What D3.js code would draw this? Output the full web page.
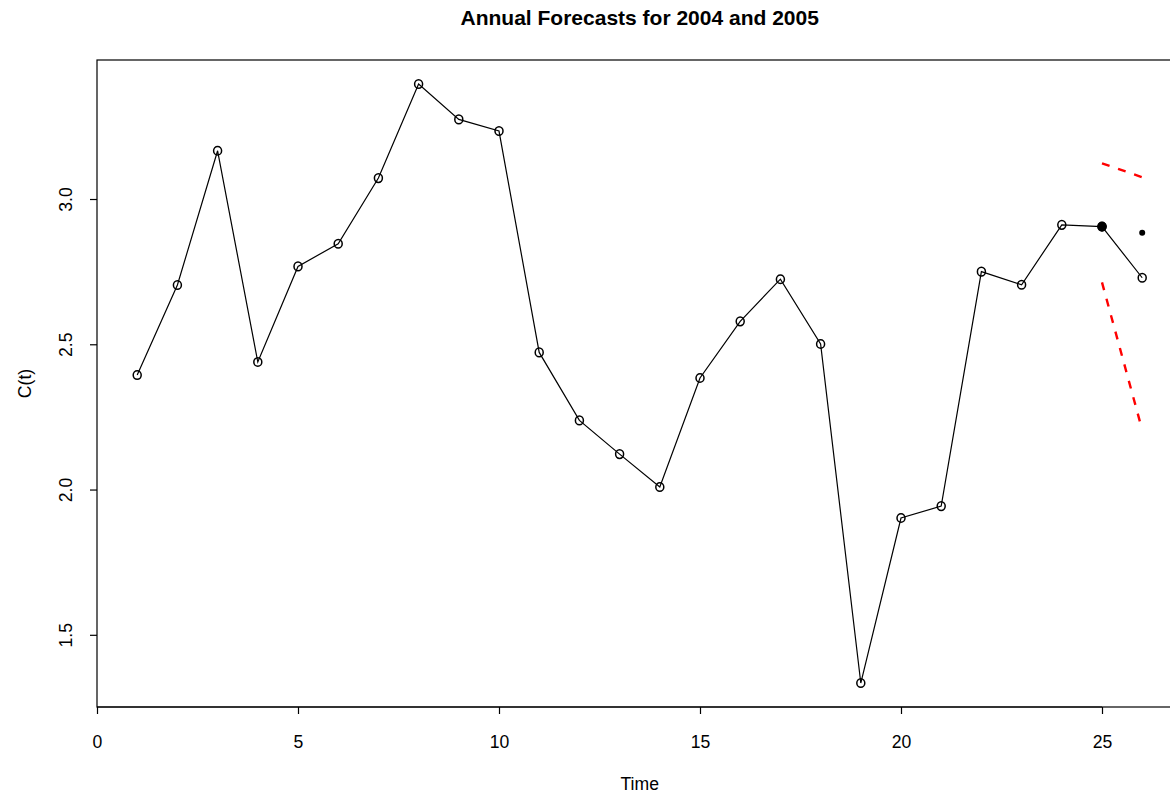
<!DOCTYPE html>
<html>
<head>
<meta charset="utf-8">
<script src="https://cdn.jsdelivr.net/npm/d3@7"></script>
<style>
  body { margin: 0; background: #fff; }
  svg text { font-family: "Liberation Sans", Arial, Helvetica, sans-serif; }
</style>
</head>
<body>
<div id="chart"></div>
<script>
// annual series C(t), t = 1..26
var years = d3.range(1, 27);
var values = [2.394, 2.704, 3.166, 2.439, 2.768, 2.846, 3.072, 3.396, 3.274, 3.234,
              2.472, 2.238, 2.122, 2.009, 2.384, 2.579, 2.724, 2.501, 1.334, 1.902,
              1.943, 2.750, 2.705, 2.911, 2.905, 2.729];

// forecasts for 2004 and 2005 (t = 25, 26) with interval bounds
var fcTime = [25, 26];
var fcValues = [2.905, 2.884];
var fcUpper = [3.123, 3.075];
var fcLower = [2.713, 2.205];

var xTicks = [0, 5, 10, 15, 20, 25];
var yTicks = [1.5, 2.0, 2.5, 3.0];

(function() {
  var width = 1170,
    height = 796;

  var left = 97, top = 60, bottom = 707;

  var svg = d3.select("#chart")
    .append("svg")
    .attr("width", width)
    .attr("height", height);

  // R style 4% padding on data range
  var xr = d3.extent(years), xp = (xr[1] - xr[0]) * 0.04;
  var yr = d3.extent(values), yp = (yr[1] - yr[0]) * 0.04;

  var x = d3.scaleLinear().domain([xr[0] - xp, xr[1] + xp]).range([left, left + 27 * 40.2]);
  var y = d3.scaleLinear().domain([yr[0] - yp, yr[1] + yp]).range([bottom, top]);

  var data = years.map(function(t, i) { return { t: t, v: values[i] }; });

  // box
  svg.append("rect")
    .attr("x", left)
    .attr("y", top)
    .attr("width", x.range()[1] - left)
    .attr("height", bottom - top)
    .attr("fill", "none")
    .attr("stroke", "#000")
    .attr("stroke-width", 1.2);

  // axes
  var xAxis = svg.append("g")
    .attr("transform", "translate(0," + bottom + ")")
    .call(d3.axisBottom(x).tickValues(xTicks).tickSize(7).tickPadding(0).tickFormat(d3.format("d")));
  xAxis.select(".domain").attr("d", "M" + x(0) + ",0H" + x(25)).attr("stroke-width", 1.2);
  xAxis.selectAll(".tick line").attr("stroke-width", 1.2);
  xAxis.selectAll(".tick text")
    .attr("y", 41)
    .attr("dy", null)
    .attr("font-size", 17.6)
    .attr("fill", "#000");

  var yAxis = svg.append("g")
    .attr("transform", "translate(" + left + ",0)")
    .call(d3.axisLeft(y).tickValues(yTicks).tickSize(7).tickFormat(d3.format(".1f")));
  yAxis.select(".domain").remove();
  yAxis.selectAll(".tick line").attr("stroke-width", 1.2);
  yAxis.selectAll(".tick text")
    .attr("x", null)
    .attr("dy", null)
    .attr("transform", "translate(-25,0) rotate(-90)")
    .attr("text-anchor", "middle")
    .attr("font-size", 17.6)
    .attr("fill", "#000");

  // series line + open circles
  var line = d3.line()
    .x(function(d) { return x(d.t); })
    .y(function(d) { return y(d.v); });

  svg.append("path")
    .datum(data)
    .attr("d", line)
    .attr("fill", "none")
    .attr("stroke", "#000")
    .attr("stroke-width", 1.2);

  svg.selectAll(".pt")
    .data(data)
    .enter().append("ellipse")
    .attr("class", "pt")
    .attr("cx", function(d) { return x(d.t); })
    .attr("cy", function(d) { return y(d.v); })
    .attr("rx", 4)
    .attr("ry", 4.3)
    .attr("fill", "none")
    .attr("stroke", "#000")
    .attr("stroke-width", 1.5);

  // forecast points
  svg.selectAll(".fc")
    .data(fcTime)
    .enter().append("circle")
    .attr("class", "fc")
    .attr("cx", function(d) { return x(d); })
    .attr("cy", function(d, i) { return y(fcValues[i]); })
    .attr("r", function(d, i) { return i == 0 ? 4.8 : 3; })
    .attr("fill", "#000");

  // interval bounds, red dashed
  [fcUpper, fcLower].forEach(function(b) {
    svg.append("path")
      .datum(fcTime.map(function(t, i) { return { t: t, v: b[i] }; }))
      .attr("d", line)
      .attr("fill", "none")
      .attr("stroke", "#ff0000")
      .attr("stroke-width", 2.4)
      .attr("stroke-dasharray", "8,9");
  });

  // labels
  var cx = (x.range()[0] + x.range()[1]) / 2;
  svg.append("text")
    .attr("x", cx)
    .attr("y", 25)
    .attr("text-anchor", "middle")
    .attr("font-size", 21)
    .attr("font-weight", "bold")
    .text("Annual Forecasts for 2004 and 2005");

  svg.append("text")
    .attr("x", cx)
    .attr("y", 790)
    .attr("text-anchor", "middle")
    .attr("font-size", 17.6)
    .text("Time");

  svg.append("text")
    .attr("transform", "translate(31," + ((top + bottom) / 2) + ") rotate(-90)")
    .attr("text-anchor", "middle")
    .attr("font-size", 17.6)
    .text("C(t)");
})();
</script>
</body>
</html>
